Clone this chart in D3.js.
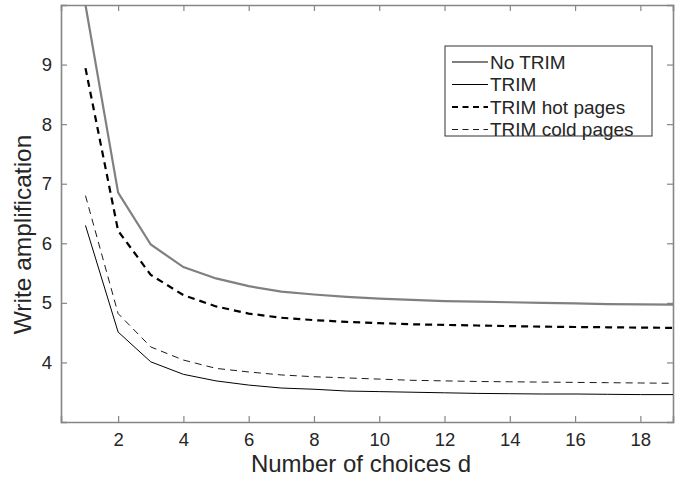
<!DOCTYPE html>
<html>
<head>
<meta charset="utf-8">
<script src="https://cdn.jsdelivr.net/npm/d3@7"></script>
<style>
  body { margin: 0; background: #fff; }
  text { font-family: "Liberation Sans", Arial, sans-serif; fill: #262626; }
  .axis path, .axis line { stroke: #868686; }
</style>
</head>
<body>
<svg id="chart" width="683" height="479"></svg>
<script>
'use strict';

// number of choices d on the x axis
var choices = d3.range(1, 20);

// write amplification per series
var noTrim   = [10.0, 6.85, 5.98, 5.60, 5.41, 5.28, 5.19, 5.14, 5.10, 5.07,
                5.05, 5.03, 5.02, 5.01, 5.00, 4.99, 4.98, 4.975, 4.97],
    trim     = [6.30, 4.51, 4.01, 3.80, 3.69, 3.62, 3.57, 3.55, 3.52, 3.51,
                3.50, 3.49, 3.48, 3.475, 3.47, 3.47, 3.465, 3.46, 3.46],
    trimHot  = [8.94, 6.21, 5.47, 5.13, 4.94, 4.82, 4.75, 4.71, 4.68, 4.66,
                4.64, 4.63, 4.62, 4.61, 4.60, 4.595, 4.59, 4.585, 4.58],
    trimCold = [6.80, 4.82, 4.26, 4.04, 3.90, 3.84, 3.79, 3.76, 3.74, 3.72,
                3.70, 3.69, 3.68, 3.675, 3.67, 3.665, 3.66, 3.655, 3.65];

var names  = ["No TRIM", "TRIM", "TRIM hot pages", "TRIM cold pages"],
    xTicks = [2, 4, 6, 8, 10, 12, 14, 16, 18],
    yTicks = [4, 5, 6, 7, 8, 9];

var series = [
  {name: names[0], values: noTrim,   color: "#808080", width: 2.2, dash: null},
  {name: names[1], values: trim,     color: "#000",    width: 1,   dash: null},
  {name: names[2], values: trimHot,  color: "#000",    width: 2.2, dash: "7,5"},
  {name: names[3], values: trimCold, color: "#000",    width: 0.9, dash: "7,5"}
];

var svg = d3.select("#chart"),
    margin = {top: 5, right: 10, bottom: 57, left: 61},
    width  = +svg.attr("width") - margin.left - margin.right,
    height = +svg.attr("height") - margin.top - margin.bottom;

var x = d3.scaleLinear().domain([0.25, 19]).range([0, width]),
    y = d3.scaleLinear().domain([3, 10]).range([height, 0]);

var line = d3.line()
    .x(function(d, i) { return x(choices[i]); })
    .y(function(d) { return y(d); });

svg.append("defs").append("clipPath")
    .attr("id", "clip")
  .append("rect")
    .attr("width", width)
    .attr("height", height);

var g = svg.append("g")
    .attr("transform", "translate(" + margin.left + "," + margin.top + ")");

// ticks point inwards on all four sides (matlab box on)
g.append("g")
    .attr("class", "axis")
    .attr("transform", "translate(0," + height + ")")
    .call(d3.axisBottom(x).tickValues(xTicks).tickSize(-6).tickPadding(11))
    .call(function(a) { a.selectAll("text").style("font-size", "18.5px"); });

g.append("g")
    .attr("class", "axis")
    .call(d3.axisTop(x).tickValues(xTicks).tickSize(-6).tickFormat(""));

g.append("g")
    .attr("class", "axis")
    .call(d3.axisLeft(y).tickValues(yTicks).tickFormat(d3.format("d")).tickSize(-6).tickPadding(9))
    .call(function(a) { a.selectAll("text").style("font-size", "18.5px"); });

g.append("g")
    .attr("class", "axis")
    .attr("transform", "translate(" + width + ",0)")
    .call(d3.axisRight(y).tickValues(yTicks).tickSize(-6).tickFormat(""));

g.selectAll(".axis path").attr("stroke-width", 1.6);
g.selectAll(".axis line").attr("stroke-width", 1.2);
g.selectAll(".axis text").attr("fill", "#262626");

g.append("g")
    .attr("clip-path", "url(#clip)")
  .selectAll(".series")
  .data(series)
  .enter().append("path")
    .attr("class", "series")
    .attr("fill", "none")
    .attr("stroke", function(d) { return d.color; })
    .attr("stroke-width", function(d) { return d.width; })
    .attr("stroke-dasharray", function(d) { return d.dash; })
    .attr("d", function(d) { return line(d.values); });

g.append("text")
    .attr("x", width / 2 - 6)
    .attr("y", height + 50)
    .attr("text-anchor", "middle")
    .style("font-size", "24px")
    .text("Number of choices d");

g.append("text")
    .attr("transform", "rotate(-90)")
    .attr("x", -(height / 2) - 21)
    .attr("y", -30)
    .attr("text-anchor", "middle")
    .style("font-size", "24.5px")
    .text("Write amplification");

// legend box, top right
var legend = g.append("g")
    .attr("transform", "translate(" + (445 - margin.left) + "," + (46 - margin.top) + ")");

legend.append("rect")
    .attr("width", 207)
    .attr("height", 90)
    .attr("fill", "#fff")
    .attr("stroke", "#333")
    .attr("stroke-width", 1);

var item = legend.selectAll(".item")
    .data(series)
  .enter().append("g")
    .attr("class", "item")
    .attr("transform", function(d, i) { return "translate(0," + (16 + i * 22.5) + ")"; });

item.append("line")
    .attr("x1", 7)
    .attr("x2", 43)
    .attr("stroke", function(d) { return d.color; })
    .attr("stroke-width", function(d) { return d.width; })
    .attr("stroke-dasharray", function(d) { return d.dash ? "6,4.5" : null; });

item.append("text")
    .attr("x", 45)
    .attr("dy", "0.35em")
    .style("font-size", "19px")
    .text(function(d) { return d.name; });
</script>
</body>
</html>
